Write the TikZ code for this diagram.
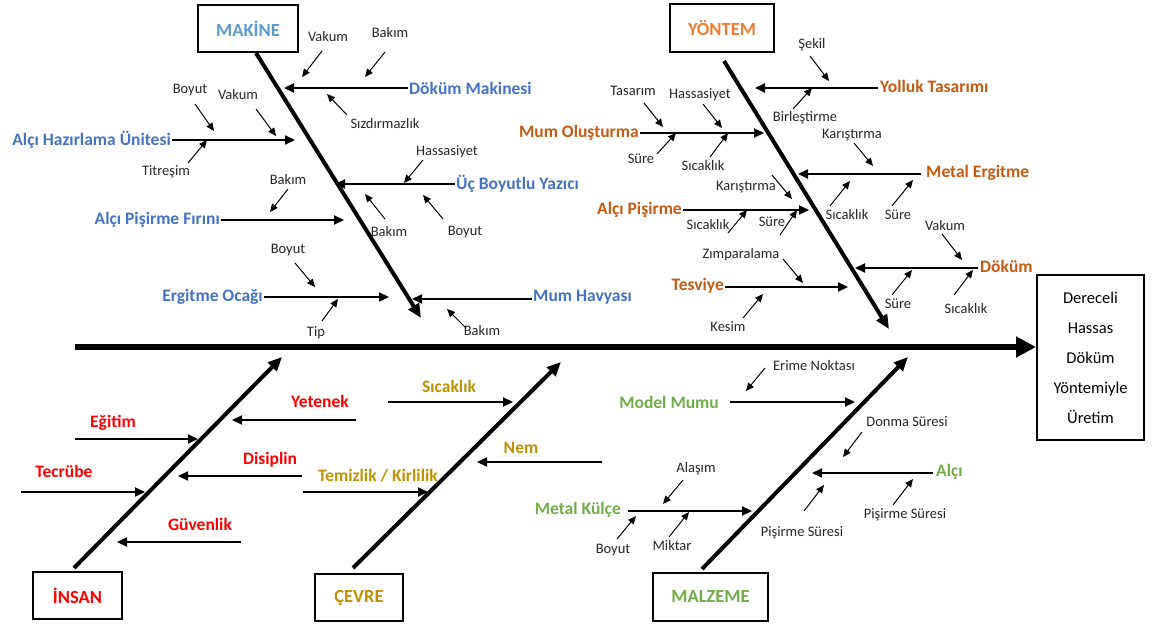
\documentclass[tikz,border=0pt]{standalone}
\usepackage{fontspec}
\setmainfont{Carlito}
\usetikzlibrary{arrows.meta}
\definecolor{mhead}{HTML}{5B9BD5}
\definecolor{mlab}{HTML}{4472C4}
\definecolor{yhead}{HTML}{ED7D31}
\definecolor{ylab}{HTML}{C55A11}
\definecolor{ired}{HTML}{FF0000}
\definecolor{cgold}{HTML}{BF9000}
\definecolor{zgreen}{HTML}{70AD47}
\newcommand\subarr[3]{\coordinate (#1a) at (#2); \coordinate (#1b) at (#3); \draw[subarrow] (#1a) -- (#1b);}
\begin{document}
\begin{tikzpicture}[x=1pt,y=-1pt,
  spinearrow/.style={line width=6pt,-{Triangle[length=20pt,width=20pt]}},
  bonearrow/.style={line width=4pt,-{Triangle[length=14pt,width=12pt]}},
  brarrow/.style={line width=2.2pt,-{Triangle[length=10pt,width=9pt]}},
  subarrow/.style={line width=1pt,-{Triangle[length=8pt,width=7pt]}},
  hdrbox/.style={draw,line width=2.2pt,inner sep=0pt,font=\bfseries\fontsize{18.5}{20}\selectfont},
  lbl/.style={inner sep=1pt,font=\bfseries\fontsize{17.5}{20}\selectfont},
  sm/.style={inner sep=0pt,font=\fontsize{14.5}{16}\selectfont,text=black!85}]
\useasboundingbox (0,0) rectangle (1152,628);
\fill[white] (0,0) rectangle (1152,628);

% ---------- spine and effect ----------
\node[draw,line width=2pt,minimum width=107pt,minimum height=165pt,align=center,
      font=\fontsize{16.5}{30}\selectfont] (eff) at (1090.5,357.5)
      {Dereceli\\Hassas\\Döküm\\Yöntemiyle\\Üretim};
\coordinate (sp0) at (75,347);
\coordinate (sp1) at (1036,347);
\draw[spinearrow] (sp0) -- (sp1);

% ---------- MAKİNE ----------
\node[hdrbox,text=mhead,minimum width=100pt,minimum height=47pt] (mak) at (248,28.5) {MAKİNE};
\coordinate (mb0) at (256,53); \coordinate (mb1) at (421,318);
\draw[bonearrow] (mb0) -- (mb1);

\node[lbl,text=mlab,anchor=east] (m1) at (172,140) {Alçı Hazırlama Ünitesi};
\coordinate (m1t) at (295,140); \draw[brarrow] (m1.east) -- (m1t);
\node[lbl,text=mlab,anchor=west] (m2) at (408,88) {Döküm Makinesi};
\coordinate (m2t) at (284,88); \draw[brarrow] (m2.west) -- (m2t);
\node[lbl,text=mlab,anchor=west] (m3) at (455,184) {Üç Boyutlu Yazıcı};
\coordinate (m3t) at (335,184); \draw[brarrow] (m3.west) -- (m3t);
\node[lbl,text=mlab,anchor=east] (m4) at (221,220) {Alçı Pişirme Fırını};
\coordinate (m4t) at (344,220); \draw[brarrow] (m4.east) -- (m4t);
\node[lbl,text=mlab,anchor=east] (m5) at (264,297) {Ergitme Ocağı};
\coordinate (m5t) at (389,297); \draw[brarrow] (m5.east) -- (m5t);
\node[lbl,text=mlab,anchor=west] (m6) at (532,297) {Mum Havyası};
\coordinate (m6t) at (412,299); \coordinate (m6s) at (532,299); \draw[brarrow] (m6s) -- (m6t);

\node[sm] (ms1) at (190,90) {Boyut};        \subarr{ma1}{195,104}{214,131}
\node[sm] (ms2) at (238,95) {Vakum};        \subarr{ma2}{256,109}{276,136}
\node[sm] (ms3) at (166,172) {Titreşim};    \subarr{ma3}{188,163}{207,140}
\node[sm] (ms4) at (328,37) {Vakum};        \subarr{ma4}{322,51}{302,77}
\node[sm] (ms5) at (390,33) {Bakım};        \subarr{ma5}{385,52}{365,77}
\node[sm] (ms6) at (385,124) {Sızdırmazlık};\subarr{ma6}{347,115}{327,94}
\node[sm] (ms7) at (447,152) {Hassasiyet};  \subarr{ma7}{423,160}{404,183}
\node[sm] (ms8) at (389,232) {Bakım};       \subarr{ma8}{385,219}{365,194}
\node[sm] (ms9) at (465,232) {Boyut};       \subarr{ma9}{443,219}{423,195}
\node[sm] (ms10) at (288,180) {Bakım};      \subarr{ma10}{288,189}{270,212}
\node[sm] (ms11) at (288,250) {Boyut};      \subarr{ma11}{295,263}{315,287}
\node[sm] (ms12) at (316,333) {Tip};        \subarr{ma12}{322,321}{338,299}
\node[sm] (ms13) at (482,331) {Bakım};      \subarr{ma13}{466,328}{447,309}

% ---------- YÖNTEM ----------
\node[hdrbox,text=yhead,minimum width=104pt,minimum height=48pt] (yon) at (722,28) {YÖNTEM};
\coordinate (yb0) at (724,61); \coordinate (yb1) at (889,329);
\draw[bonearrow] (yb0) -- (yb1);

\node[lbl,text=ylab,anchor=west] (y1) at (879,86) {Yolluk Tasarımı};
\coordinate (y1s) at (878,88); \coordinate (y1t) at (755,88); \draw[brarrow] (y1s) -- (y1t);
\node[lbl,text=ylab,anchor=east] (y2) at (640,133) {Mum Oluşturma};
\coordinate (y2t) at (764,133); \draw[brarrow] (y2.east) -- (y2t);
\node[lbl,text=ylab,anchor=west] (y3) at (925,173) {Metal Ergitme};
\coordinate (y3s) at (921,174); \coordinate (y3t) at (798,174); \draw[brarrow] (y3s) -- (y3t);
\node[lbl,text=ylab,anchor=east] (y4) at (683,210) {Alçı Pişirme};
\coordinate (y4t) at (809,210); \draw[brarrow] (y4.east) -- (y4t);
\node[lbl,text=ylab,anchor=east] (y5) at (725,286) {Tesviye};
\coordinate (y5s) at (725,287); \coordinate (y5t) at (848,287); \draw[brarrow] (y5s) -- (y5t);
\node[lbl,text=ylab,anchor=west] (y6) at (979,266) {Döküm};
\coordinate (y6s) at (978,268); \coordinate (y6t) at (855,268); \draw[brarrow] (y6s) -- (y6t);

\node[sm] (ys1) at (812,45) {Şekil};         \subarr{ya1}{810,56}{829,81}
\node[sm] (ys2) at (805,118) {Birleştirme};  \subarr{ya2}{793,109}{812,88}
\node[sm] (ys3) at (633,91) {Tasarım};       \subarr{ya3}{644,103}{663,127}
\node[sm] (ys4) at (700,95) {Hassasiyet};    \subarr{ya4}{703,104}{722,128}
\node[sm] (ys5) at (641,159) {Süre};         \subarr{ya5}{657,154}{676,133}
\node[sm] (ys6) at (703,166) {Sıcaklık};     \subarr{ya6}{710,157}{728,133}
\node[sm] (ys7) at (852,135) {Karıştırma};   \subarr{ya7}{854,143}{873,166}
\node[sm] (ys8) at (847,215) {Sıcaklık};     \subarr{ya8}{830,206}{850,181}
\node[sm] (ys9) at (898,215) {Süre};         \subarr{ya9}{892,206}{913,180}
\node[sm] (ys10) at (746,187) {Karıştırma};  \subarr{ya10}{772,175}{792,199}
\node[sm] (ys11) at (708,225) {Sıcaklık};    \subarr{ya11}{728,233}{747,210}
\node[sm] (ys12) at (772,222) {Süre};        \subarr{ya12}{780,235}{797,210}
\node[sm] (ys13) at (741,255) {Zımparalama}; \subarr{ya13}{783,259}{803,283}
\node[sm] (ys14) at (728,327) {Kesim};       \subarr{ya14}{743,318}{763,294}
\node[sm] (ys15) at (945,226) {Vakum};       \subarr{ya15}{942,234}{962,260}
\node[sm] (ys16) at (898,304) {Süre};        \subarr{ya16}{892,295}{912,270}
\node[sm] (ys17) at (966,309) {Sıcaklık};    \subarr{ya17}{954,295}{973,270}

% ---------- İNSAN ----------
\node[hdrbox,text=ired,minimum width=89pt,minimum height=47pt] (ins) at (77.5,595.5) {İNSAN};
\coordinate (ib0) at (74,568); \coordinate (ib1) at (282,357);
\draw[bonearrow] (ib0) -- (ib1);
\node[lbl,text=ired] (i1) at (113,423) {Eğitim};
\coordinate (i1s) at (75,439); \coordinate (i1t) at (198,439); \draw[brarrow] (i1s) -- (i1t);
\node[lbl,text=ired] (i2) at (64,471) {Tecrübe};
\coordinate (i2s) at (21,492); \coordinate (i2t) at (145,492); \draw[brarrow] (i2s) -- (i2t);
\node[lbl,text=ired] (i3) at (320,401) {Yetenek};
\coordinate (i3s) at (356,420); \coordinate (i3t) at (232,420); \draw[brarrow] (i3s) -- (i3t);
\node[lbl,text=ired] (i4) at (270,460) {Disiplin};
\coordinate (i4s) at (302,476); \coordinate (i4t) at (178,476); \draw[brarrow] (i4s) -- (i4t);
\node[lbl,text=ired] (i5) at (200,524) {Güvenlik};
\coordinate (i5s) at (241,542); \coordinate (i5t) at (117,542); \draw[brarrow] (i5s) -- (i5t);

% ---------- ÇEVRE ----------
\node[hdrbox,text=cgold,minimum width=88pt,minimum height=47pt] (cev) at (359,597.5) {ÇEVRE};
\coordinate (cb0) at (353,568); \coordinate (cb1) at (561,362);
\draw[bonearrow] (cb0) -- (cb1);
\node[lbl,text=cgold] (c1) at (449,386) {Sıcaklık};
\coordinate (c1s) at (388,402); \coordinate (c1t) at (513,402); \draw[brarrow] (c1s) -- (c1t);
\node[lbl,text=cgold] (c2) at (521,448) {Nem};
\coordinate (c2s) at (602,462); \coordinate (c2t) at (477,462); \draw[brarrow] (c2s) -- (c2t);
\node[lbl,text=cgold] (c3) at (378,476) {Temizlik / Kirlilik};
\coordinate (c3s) at (303,492); \coordinate (c3t) at (428,492); \draw[brarrow] (c3s) -- (c3t);

% ---------- MALZEME ----------
\node[hdrbox,text=zgreen,minimum width=115pt,minimum height=48pt] (mal) at (710.5,597) {MALZEME};
\coordinate (zb0) at (702,569); \coordinate (zb1) at (908,357);
\draw[bonearrow] (zb0) -- (zb1);
\node[lbl,text=zgreen,anchor=east] (z1) at (720,402) {Model Mumu};
\coordinate (z1s) at (730,402); \coordinate (z1t) at (855,402); \draw[brarrow] (z1s) -- (z1t);
\node[lbl,text=zgreen,anchor=west] (z2) at (935,472) {Alçı};
\coordinate (z2s) at (933,473); \coordinate (z2t) at (812,473); \draw[brarrow] (z2s) -- (z2t);
\node[lbl,text=zgreen,anchor=east] (z3) at (622,510) {Metal Külçe};
\coordinate (z3s) at (628,511); \coordinate (z3t) at (752,511); \draw[brarrow] (z3s) -- (z3t);

\node[sm] (zs1) at (814,366) {Erime Noktası};  \subarr{za1}{765,368}{746,391}
\node[sm] (zs2) at (907,422) {Donma Süresi};   \subarr{za2}{862,432}{843,457}
\node[sm] (zs3) at (905,515) {Pişirme Süresi}; \subarr{za3}{893,505}{913,479}
\node[sm] (zs4) at (802,533) {Pişirme Süresi}; \subarr{za4}{804,511}{824,485}
\node[sm] (zs5) at (696,469) {Alaşım};         \subarr{za5}{683,480}{663,504}
\node[sm] (zs6) at (613,550) {Boyut};          \subarr{za6}{617,539}{636,516}
\node[sm] (zs7) at (672,546) {Miktar};         \subarr{za7}{669,537}{689,512}
\end{tikzpicture}
\end{document}
